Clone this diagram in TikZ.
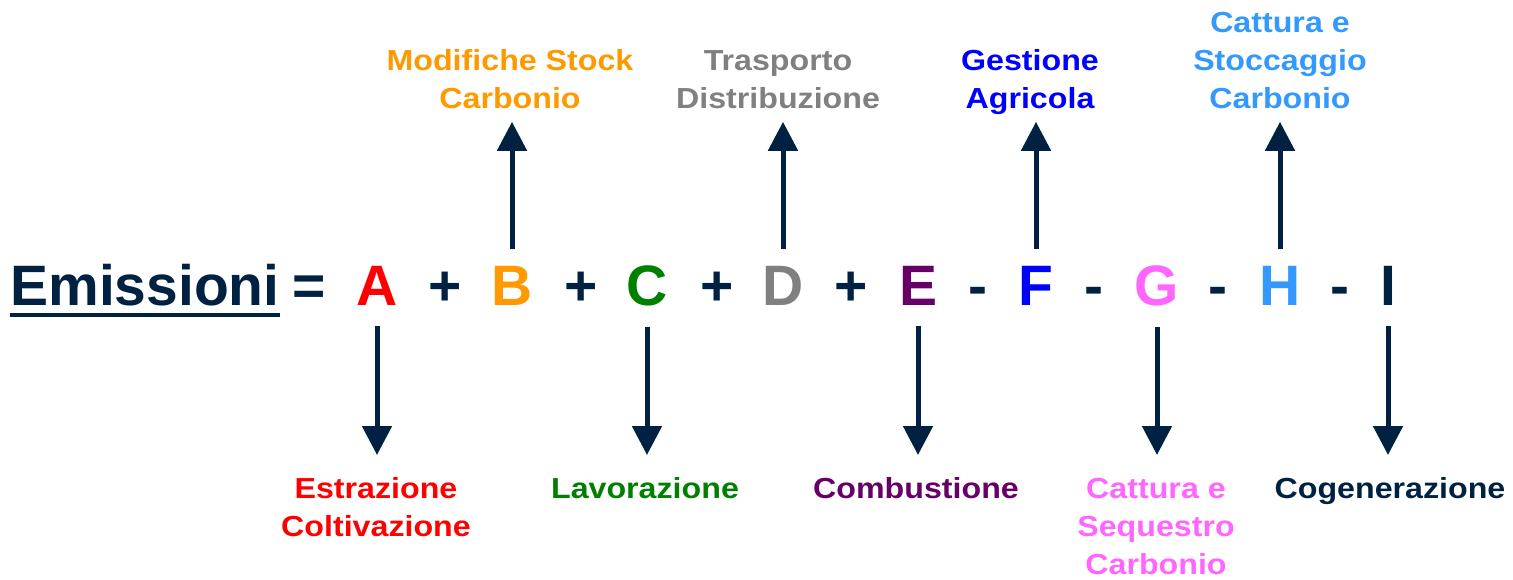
\documentclass[tikz,border=0pt]{standalone}
\usepackage{fontspec}
\setmainfont{Liberation Sans}
\newfontfamily\labfont{Liberation Sans}[FakeStretch=1.11]
\usetikzlibrary{arrows.meta}
\definecolor{navy}{HTML}{002142}
\definecolor{cA}{HTML}{FF0000}
\definecolor{cB}{HTML}{FF9900}
\definecolor{cC}{HTML}{008000}
\definecolor{cD}{HTML}{808080}
\definecolor{cE}{HTML}{660066}
\definecolor{cF}{HTML}{0000FF}
\definecolor{cG}{HTML}{FF66FF}
\definecolor{cH}{HTML}{3399FF}
\begin{document}
\begin{tikzpicture}[x=1pt,y=-1pt,
  big/.style={font=\fontsize{57}{68}\selectfont\bfseries, inner sep=0pt, anchor=base},
  lab/.style={font=\labfont\fontsize{29}{38}\selectfont\bfseries, inner sep=0pt, align=center},
  toplab/.style={lab, anchor=south},
  botlab/.style={lab, anchor=north},
  uparr/.style={draw=navy, line width=5pt, -{Triangle[width=29pt,length=29pt]}, shorten >=1.4pt},
  dnarr/.style={draw=navy, line width=5pt, -{Triangle[width=29pt,length=29pt]}, shorten >=16.4pt}]
\useasboundingbox (0,0) rectangle (1513,579);
% equation
\node[big, text=navy] (em) at (145,305) {Emissioni};
\draw[navy, line width=4pt] ([yshift=-10pt]em.base west) -- ([yshift=-10pt]em.base east);
\node[big, text=navy] (eq) at (309,305) {=};
\node[big, text=cA] (A) at (377,305) {A};
\node[big, text=navy] (p1) at (445,305) {+};
\node[big, text=cB] (B) at (512,305) {B};
\node[big, text=navy] (p2) at (581,305) {+};
\node[big, text=cC] (C) at (647,305) {C};
\node[big, text=navy] (p3) at (717,305) {+};
\node[big, text=cD] (D) at (783,305) {D};
\node[big, text=navy] (p4) at (851,305) {+};
\node[big, text=cE] (E) at (918,305) {E};
\node[big, text=navy] (m1) at (978,305) {-};
\node[big, text=cF] (F) at (1036,305) {F};
\node[big, text=navy] (m2) at (1094,305) {-};
\node[big, text=cG] (G) at (1157,305) {G};
\node[big, text=navy] (m3) at (1218,305) {-};
\node[big, text=cH] (H) at (1280,305) {H};
\node[big, text=navy] (m4) at (1340,305) {-};
\node[big, text=navy] (I) at (1388,305) {I};
% top labels (last baseline at 109)
\node[toplab, text=cB] (lB) at (510,120.4) {Modifiche Stock\\Carbonio\strut};
\node[toplab, text=cD] (lD) at (778,120.4) {Trasporto\\Distribuzione\strut};
\node[toplab, text=cF] (lF) at (1030,120.4) {Gestione\\Agricola\strut};
\node[toplab, text=cH] (lH) at (1280,120.4) {Cattura e\\Stoccaggio\\Carbonio\strut};
% bottom labels (first baseline at 498)
\node[botlab, text=cA] (lA) at (376,471.4) {\strut Estrazione\\Coltivazione};
\node[botlab, text=cC] (lC) at (645,471.4) {\strut Lavorazione};
\node[botlab, text=cE] (lE) at (916,471.4) {\strut Combustione};
\node[botlab, text=cG] (lG) at (1156,471.4) {\strut Cattura e\\Sequestro\\Carbonio};
\node[botlab, text=navy] (lI) at (1390,471.4) {\strut Cogenerazione};
% arrows
\draw[uparr] ([yshift=17pt]B.north) -- (B.north |- lB.south);
\draw[uparr] ([yshift=17pt]D.north) -- (D.north |- lD.south);
\draw[uparr] ([yshift=17pt]F.north) -- (F.north |- lF.south);
\draw[uparr] ([yshift=17pt]H.north) -- (H.north |- lH.south);
\draw[dnarr] ([yshift=-21pt]A.south) -- (A.south |- lA.north);
\draw[dnarr] ([yshift=-21pt]C.south) -- (C.south |- lC.north);
\draw[dnarr] ([yshift=-21pt]E.south) -- (E.south |- lE.north);
\draw[dnarr] ([yshift=-21pt]G.south) -- (G.south |- lG.north);
\draw[dnarr] ([yshift=-21pt]I.south) -- (I.south |- lI.north);
\end{tikzpicture}
\end{document}
